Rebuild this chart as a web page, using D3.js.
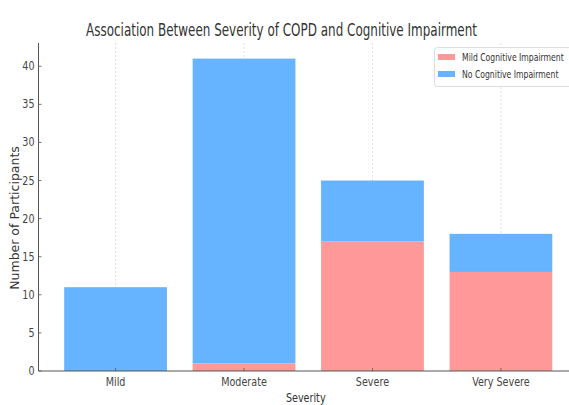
<!DOCTYPE html>
<html>
<head>
<meta charset="utf-8">
<script src="https://cdn.jsdelivr.net/npm/d3@7"></script>
<style>
  body { margin: 0; background: #fff; }
  svg { display: block; font-family: "DejaVu Sans", sans-serif; }
</style>
</head>
<body>
<svg id="chart" width="569" height="405"></svg>
<script>
// data
const categories = ['Mild', 'Moderate', 'Severe', 'Very Severe'];
const mildCI = [0, 1, 17, 13];
const noCI = [11, 40, 8, 5];
const seriesNames = ['Mild Cognitive Impairment', 'No Cognitive Impairment'];
const yTicks = [0, 5, 10, 15, 20, 25, 30, 35, 40];

const colors = ['#ff9999', '#66b3ff'];

const svg = d3.select('#chart');
const margin = { top: 43, left: 38.5, right: -9, bottom: 34 };
const width = 569, height = 405;
const x0 = margin.left, x1 = width - margin.right;
const y0 = height - margin.bottom, yTop = margin.top;

const xScale = d3.scaleBand()
  .domain(categories)
  .range([x0, x1])
  .paddingInner(0.2)
  .paddingOuter(0.2);

const totals = categories.map((c, i) => mildCI[i] + noCI[i]);
const yScale = d3.scaleLinear()
  .domain([0, d3.max(totals) * 1.05])
  .range([y0, yTop]);

// helper: text squeezed sideways like the picture
function sqText(parent, x, y, str, size, anchor, fill, sx) {
  return parent.append('text')
    .attr('transform', `translate(${x},${y}) scale(${sx || 0.8},1)`)
    .attr('text-anchor', anchor)
    .attr('font-size', size)
    .attr('fill', fill || '#333')
    .text(str);
}

// vertical grid lines
svg.append('g').selectAll('line')
  .data(categories)
  .enter()
  .append('line')
  .attr('x1', d => xScale(d) + xScale.bandwidth() / 2)
  .attr('x2', d => xScale(d) + xScale.bandwidth() / 2)
  .attr('y1', yTop)
  .attr('y2', y0)
  .attr('stroke', '#d8d8d8')
  .attr('stroke-width', 0.8)
  .attr('stroke-dasharray', '2,2');

// stacked bars
const stackData = categories.map((c, i) => ({ cat: c, mild: mildCI[i], none: noCI[i] }));
const stacked = d3.stack().keys(['mild', 'none'])(stackData);

svg.append('g').selectAll('g')
  .data(stacked)
  .enter()
  .append('g')
  .attr('fill', (d, i) => colors[i])
  .selectAll('rect')
  .data(d => d)
  .enter()
  .append('rect')
  .attr('x', d => xScale(d.data.cat))
  .attr('width', xScale.bandwidth())
  .attr('y', d => yScale(d[1]))
  .attr('height', d => yScale(d[0]) - yScale(d[1]));

// ticks (pointing inward)
svg.append('g').selectAll('line')
  .data(categories)
  .enter()
  .append('line')
  .attr('x1', d => xScale(d) + xScale.bandwidth() / 2)
  .attr('x2', d => xScale(d) + xScale.bandwidth() / 2)
  .attr('y1', y0)
  .attr('y2', y0 - 3)
  .attr('stroke', '#555')
  .attr('stroke-width', 0.8);

svg.append('g').selectAll('line')
  .data(yTicks)
  .enter()
  .append('line')
  .attr('x1', x0)
  .attr('x2', x0 + 3)
  .attr('y1', d => yScale(d))
  .attr('y2', d => yScale(d))
  .attr('stroke', '#555')
  .attr('stroke-width', 0.8);

// spines
svg.append('line')
  .attr('x1', x0).attr('x2', x0)
  .attr('y1', yTop).attr('y2', y0)
  .attr('stroke', '#555').attr('stroke-width', 1);
svg.append('line')
  .attr('x1', x0).attr('x2', x1)
  .attr('y1', y0).attr('y2', y0)
  .attr('stroke', '#555').attr('stroke-width', 1);

// tick labels
yTicks.forEach(t => {
  sqText(svg, x0 - 4, yScale(t) + 4, t, 12, 'end', '#444');
});
categories.forEach(c => {
  sqText(svg, xScale(c) + xScale.bandwidth() / 2, y0 + 15, c, 12, 'middle', '#444');
});

// axis titles
sqText(svg, (x0 + 569) / 2 + 2, 402, 'Severity', 12, 'middle', '#333');
svg.append('text')
  .attr('transform', `translate(19,${(yTop + y0) / 2 + 11}) rotate(-90)`)
  .attr('text-anchor', 'middle')
  .attr('font-size', 12.5)
  .attr('fill', '#333')
  .text('Number of Participants');

// title
sqText(svg, 281.5, 36, 'Association Between Severity of COPD and Cognitive Impairment', 17, 'middle', '#333', 0.705);

// legend
const legend = svg.append('g');
legend.append('rect')
  .attr('x', 434.5).attr('y', 47.5)
  .attr('width', 145).attr('height', 39)
  .attr('rx', 3)
  .attr('fill', '#fff').attr('fill-opacity', 0.85)
  .attr('stroke', '#ddd');
seriesNames.forEach((name, i) => {
  const ly = 57 + i * 17;
  legend.append('rect')
    .attr('x', 438).attr('y', ly - 3)
    .attr('width', 17).attr('height', 6)
    .attr('fill', colors[i]);
  sqText(legend, 462, ly + 3.8, name, 11, 'start', '#333', 0.7);
});
</script>
</body>
</html>
